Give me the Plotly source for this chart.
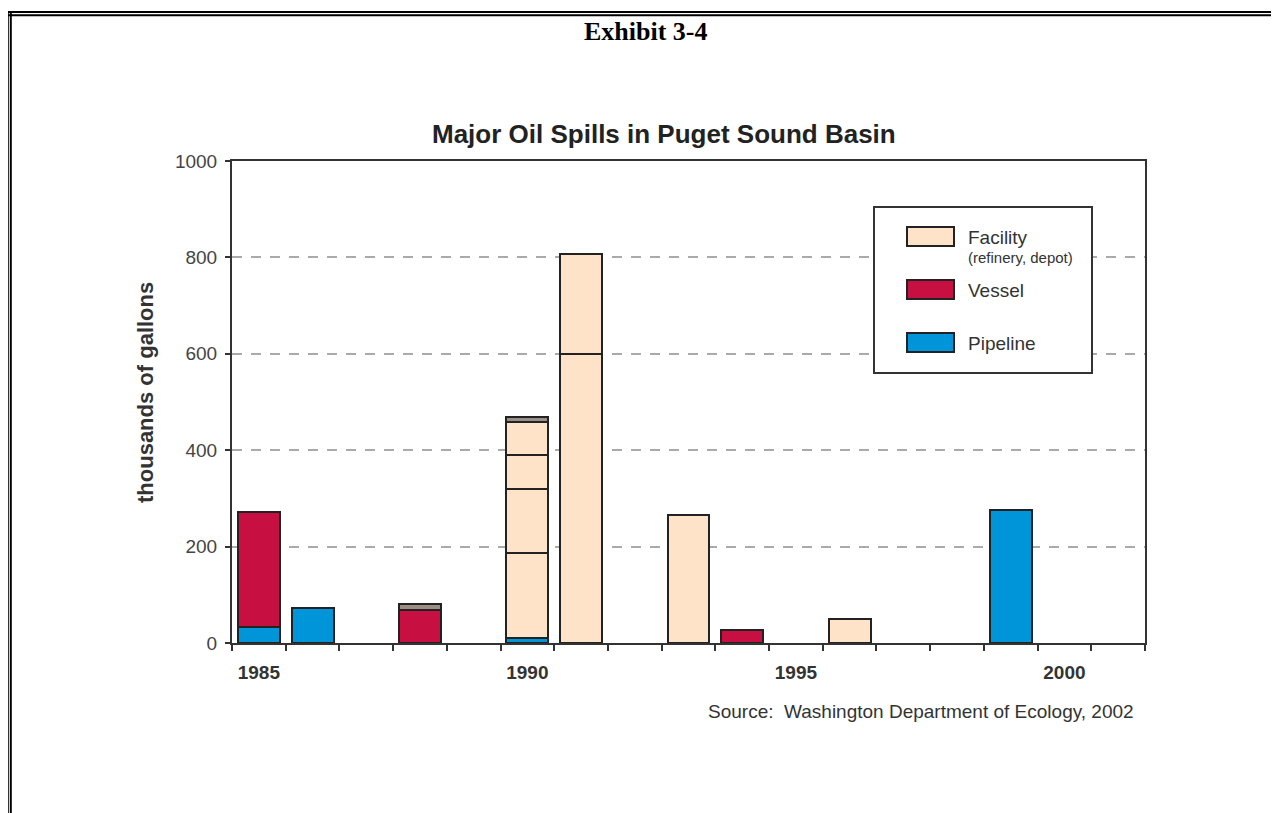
import plotly.graph_objects as go

# ---------------- data ----------------
spill_year = [1985, 1985, 1986, 1988, 1988, 1990, 1990, 1990, 1990, 1990, 1990,
              1991, 1991, 1993, 1994, 1996, 1999]
spill_type = ["Pipeline", "Vessel", "Pipeline", "Vessel", "Other",
              "Pipeline", "Facility", "Facility", "Facility", "Facility", "Other",
              "Facility", "Facility", "Facility", "Vessel", "Facility", "Pipeline"]
spill_amount = [33, 239, 72, 68, 12, 10, 177, 132, 71, 69, 10,
                600, 208, 265, 28, 50, 276]

year_first, year_last = 1985, 2001
tick_years = [1985, 1990, 1995, 2000]
tick_labels = ["1985", "1990", "1995", "2000"]
y_ticks = [0, 200, 400, 600, 800, 1000]

legend_types = ["Facility", "Vessel", "Pipeline"]
legend_sub = ["(refinery, depot)", "", ""]

colors = {"Facility": "#FEE3C9", "Vessel": "#C80F42",
          "Pipeline": "#0095D9", "Other": "#9A8E86"}

# ---------------- geometry helpers (page pixels -> paper) ----------------
OFF = 8  # default body margin of the html page
W, H = 1279 - OFF, 813 - OFF
L, R, T, B = 232 - OFF, 1145 - OFF, 161 - OFF, 643 - OFF


def px_x(p):
    return (p - OFF - L) / (R - L)


def px_y(p):
    return (B - (p - OFF)) / (B - T)


fig = go.Figure()
for yr, tp, amt in zip(spill_year, spill_type, spill_amount):
    fig.add_trace(go.Bar(
        x=[yr], y=[amt], width=0.78,
        marker=dict(color=colors[tp], line=dict(color="#222222", width=2)),
        name=tp, showlegend=False, hovertemplate=f"{tp}: %{{y}}<extra>%{{x}}</extra>",
    ))

fig.update_layout(
    barmode="stack",
    width=W, height=H, autosize=False,
    margin=dict(l=L, r=W - R, t=T, b=H - B, pad=0),
    paper_bgcolor="white", plot_bgcolor="white",
    font=dict(family="Liberation Sans, Arial, sans-serif", color="#333333"),
)

fig.update_xaxes(
    range=[year_first - 0.5, year_last + 0.5],
    tickmode="array", tickvals=tick_years, ticktext=tick_labels,
    ticks="", tickfont=dict(size=19, color="#333333",
                            family="Liberation Sans, Arial, sans-serif", weight="bold"),
    ticklabelstandoff=11,
    showgrid=False, zeroline=False,
    showline=True, linecolor="#333333", linewidth=2, mirror=True,
    minor=dict(tickmode="array",
               tickvals=[y - 0.5 for y in range(year_first, year_last + 2)],
               ticks="outside", ticklen=6, tickwidth=1.5, tickcolor="#333333",
               showgrid=False),
    automargin=False, fixedrange=True,
)

fig.update_yaxes(
    range=[0, 1000],
    tickmode="array", tickvals=y_ticks, ticktext=[str(v) for v in y_ticks],
    ticks="outside", ticklen=5, tickwidth=1.5, tickcolor="#333333",
    tickfont=dict(size=19, color="#444444"),
    ticklabelstandoff=4,
    showgrid=True, gridcolor="#AAAAAA", gridwidth=2, griddash="10px,9px",
    zeroline=False,
    showline=True, linecolor="#333333", linewidth=2, mirror=True,
    automargin=False, fixedrange=True,
)

shapes = []
annotations = []

# page double border (top and left)
for yy in (12, 15.3):
    shapes.append(dict(type="line", xref="paper", yref="paper",
                       x0=px_x(7), x1=px_x(1300), y0=px_y(yy), y1=px_y(yy),
                       line=dict(color="black", width=2)))
for xx in (7.8, 10.8):
    shapes.append(dict(type="line", xref="paper", yref="paper",
                       x0=px_x(xx), x1=px_x(xx), y0=px_y(11), y1=px_y(830),
                       line=dict(color="black", width=2)))

# legend box
shapes.append(dict(type="rect", xref="paper", yref="paper",
                   x0=px_x(874), x1=px_x(1092), y0=px_y(207), y1=px_y(373),
                   line=dict(color="#333333", width=2), fillcolor="white", layer="above"))
for i, (tp, sub) in enumerate(zip(legend_types, legend_sub)):
    top = 227 + i * 53
    shapes.append(dict(type="rect", xref="paper", yref="paper",
                       x0=px_x(907), x1=px_x(954), y0=px_y(top), y1=px_y(top + 19),
                       line=dict(color="#222222", width=2),
                       fillcolor=colors[tp], layer="above"))
    annotations.append(dict(xref="paper", yref="paper", x=px_x(966), y=px_y(top + 10),
                            text=tp, showarrow=False, xanchor="left", yanchor="middle",
                            font=dict(size=19, color="#333333")))
    if sub:
        annotations.append(dict(xref="paper", yref="paper", x=px_x(966), y=px_y(top + 30),
                                text=sub, showarrow=False, xanchor="left", yanchor="middle",
                                font=dict(size=15, color="#333333")))

# texts
annotations.append(dict(xref="paper", yref="paper", x=px_x(646), y=px_y(31),
                        text="<b>Exhibit 3-4</b>", showarrow=False,
                        xanchor="center", yanchor="middle",
                        font=dict(size=26, color="black",
                                  family="Liberation Serif, Times New Roman, serif")))
annotations.append(dict(xref="paper", yref="paper", x=px_x(664), y=px_y(134),
                        text="<b>Major Oil Spills in Puget Sound Basin</b>", showarrow=False,
                        xanchor="center", yanchor="middle",
                        font=dict(size=26, color="#222222")))
annotations.append(dict(xref="paper", yref="paper", x=px_x(145), y=px_y(393),
                        text="<b>thousands of gallons</b>", showarrow=False, textangle=-90,
                        xanchor="center", yanchor="middle",
                        font=dict(size=22, color="#333333")))
annotations.append(dict(xref="paper", yref="paper", x=px_x(1136), y=px_y(711),
                        text="Source:  Washington Department of Ecology, 2002", showarrow=False,
                        xanchor="right", yanchor="middle",
                        font=dict(size=19, color="#333333")))

fig.update_layout(shapes=shapes, annotations=annotations)

fig.write_html("out.html")
